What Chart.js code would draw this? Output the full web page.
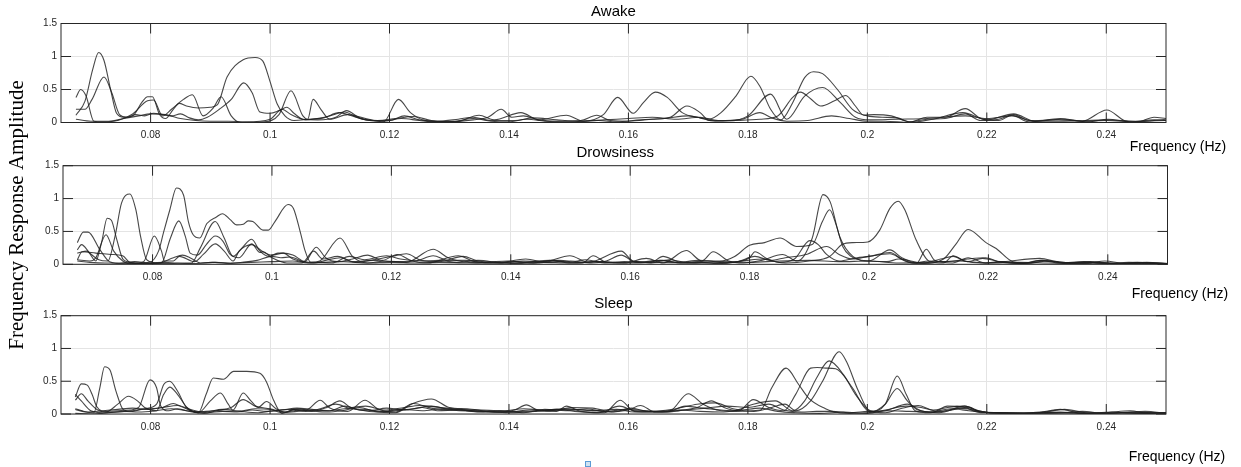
<!DOCTYPE html>
<html>
<head>
<meta charset="utf-8">
<script src="https://cdn.jsdelivr.net/npm/chart.js@4.4.1/dist/chart.umd.min.js"></script>
<style>
  body { margin: 0; background: #fff; }
  #wrap { position: relative; width: 1241px; height: 467px; overflow: hidden; }
  #wrap canvas { position: absolute; left: 0; top: 0; }
  #marker { position: absolute; left: 585px; top: 461px; width: 4px; height: 4px; border: 1px solid #5b9bd5; background: #cfe2f3; }
</style>
</head>
<body>
<div id="wrap">
  <canvas id="c0" width="1241" height="467"></canvas>
  <canvas id="c1" width="1241" height="467"></canvas>
  <canvas id="c2" width="1241" height="467"></canvas>
  <div id="marker"></div>
</div>
<script>
// axis ticks
const freqTicks = [0.08, 0.1, 0.12, 0.14, 0.16, 0.18, 0.2, 0.22, 0.24];
const ampTicks = [0, 0.5, 1, 1.5];
const panelTitles = ["Awake", "Drowsiness", "Sleep"];

// Awake: [frequency (Hz), amplitude]
const awake1 = [[0.0675,0.11],[0.069,0.32],[0.0703,0.8],[0.0713,1.06],[0.0722,0.94],[0.0733,0.5],[0.0743,0.14],[0.0755,0.08],[0.077,0.1],[0.0785,0.3],[0.0795,0.39],[0.0803,0.39],[0.0815,0.12],[0.0825,0.06],[0.0838,0.2],[0.0848,0.29],[0.086,0.25],[0.088,0.22],[0.09,0.23],[0.0912,0.27],[0.0928,0.69],[0.0955,0.95],[0.0975,0.985],[0.0988,0.93],[0.1,0.62],[0.1012,0.28],[0.1025,0.1],[0.104,0.03],[0.1065,0.05],[0.109,0.07],[0.1115,0.15],[0.113,0.12],[0.116,0.04],[0.119,0.02],[0.122,0.06],[0.125,0.03],[0.128,0.01],[0.131,0.02],[0.134,0.06],[0.137,0.02],[0.14,0.01],[0.143,0.05],[0.146,0.02],[0.15,0.01],[0.155,0.03],[0.158,0.01],[0.162,0.04],[0.166,0.06],[0.17,0.1],[0.1735,0.05],[0.1755,0.15],[0.178,0.4],[0.1805,0.7],[0.182,0.55],[0.1838,0.2],[0.1855,0.04],[0.1875,0.3],[0.1895,0.68],[0.191,0.77],[0.1925,0.74],[0.195,0.5],[0.1975,0.2],[0.2,0.1],[0.2025,0.08],[0.205,0.07],[0.207,0.01],[0.21,0.05],[0.213,0.06],[0.2164,0.13],[0.219,0.03],[0.222,0.05],[0.2245,0.12],[0.227,0.03],[0.232,0.04],[0.236,0.02],[0.24,0.03],[0.245,0.01],[0.25,0.05]];
const awake2 = [[0.0675,0.2],[0.069,0.2],[0.0702,0.35],[0.0722,0.69],[0.0735,0.45],[0.0748,0.12],[0.076,0.08],[0.0775,0.12],[0.079,0.1],[0.0805,0.14],[0.082,0.12],[0.0835,0.1],[0.085,0.13],[0.0865,0.07],[0.088,0.04],[0.0895,0.08],[0.0915,0.2],[0.0935,0.35],[0.0956,0.6],[0.097,0.45],[0.0983,0.16],[0.1,0.14],[0.1015,0.18],[0.1028,0.23],[0.104,0.14],[0.1055,0.05],[0.108,0.04],[0.111,0.08],[0.1128,0.18],[0.115,0.07],[0.118,0.03],[0.121,0.06],[0.124,0.09],[0.127,0.03],[0.131,0.01],[0.135,0.11],[0.1375,0.04],[0.142,0.15],[0.145,0.04],[0.1496,0.11],[0.1525,0.02],[0.1558,0.12],[0.1582,0.38],[0.1608,0.14],[0.1625,0.3],[0.1645,0.46],[0.1665,0.38],[0.169,0.15],[0.172,0.07],[0.1745,0.02],[0.178,0.03],[0.182,0.05],[0.185,0.1],[0.1875,0.38],[0.1888,0.46],[0.1905,0.36],[0.1922,0.25],[0.1945,0.33],[0.1964,0.41],[0.198,0.25],[0.1994,0.11],[0.2011,0.12],[0.204,0.1],[0.2072,0.01],[0.21,0.08],[0.213,0.08],[0.2164,0.21],[0.219,0.06],[0.222,0.03],[0.2242,0.11],[0.227,0.01],[0.2323,0.06],[0.236,0.02],[0.2401,0.19],[0.243,0.03],[0.245,0.0],[0.248,0.08],[0.25,0.06]];
const awake3 = [[0.0675,0.38],[0.0683,0.5],[0.0692,0.4],[0.0705,0.02],[0.072,0.01],[0.0745,0.03],[0.077,0.13],[0.0795,0.33],[0.0805,0.34],[0.082,0.1],[0.0835,0.2],[0.0855,0.35],[0.087,0.42],[0.0888,0.1],[0.0905,0.22],[0.0918,0.39],[0.0935,0.1],[0.095,0.0],[0.099,0.01],[0.1015,0.12],[0.1035,0.48],[0.1055,0.1],[0.1063,0.05],[0.1072,0.35],[0.1085,0.2],[0.11,0.05],[0.113,0.12],[0.116,0.06],[0.119,0.01],[0.1215,0.35],[0.1235,0.15],[0.126,0.03],[0.13,0.01],[0.134,0.04],[0.1365,0.08],[0.1387,0.2],[0.1405,0.08],[0.1424,0.1],[0.145,0.04],[0.148,0.02],[0.152,0.03],[0.1547,0.11],[0.157,0.03],[0.16,0.02],[0.164,0.05],[0.167,0.08],[0.1698,0.25],[0.172,0.15],[0.1735,0.03],[0.177,0.03],[0.18,0.1],[0.1838,0.43],[0.1865,0.05],[0.1895,0.4],[0.1925,0.53],[0.1955,0.3],[0.198,0.08],[0.2005,0.04],[0.205,0.05],[0.21,0.06],[0.2164,0.1],[0.22,0.06],[0.2242,0.1],[0.228,0.02],[0.233,0.02],[0.2401,0.04],[0.245,0.02],[0.25,0.03]];
const awake4 = [[0.0675,0.05],[0.07,0.02],[0.073,0.02],[0.0755,0.06],[0.078,0.1],[0.08,0.13],[0.0825,0.12],[0.085,0.06],[0.0875,0.03],[0.09,0.02],[0.093,0.02],[0.096,0.01],[0.1,0.05],[0.102,0.2],[0.1035,0.12],[0.106,0.04],[0.108,0.06],[0.11,0.1],[0.1125,0.16],[0.1145,0.08],[0.117,0.03],[0.12,0.03],[0.1225,0.1],[0.125,0.04],[0.128,0.02],[0.1315,0.05],[0.134,0.08],[0.137,0.03],[0.141,0.03],[0.144,0.07],[0.148,0.04],[0.152,0.02],[0.156,0.04],[0.16,0.06],[0.164,0.08],[0.168,0.05],[0.172,0.08],[0.175,0.03],[0.179,0.05],[0.182,0.15],[0.184,0.07],[0.1865,0.02],[0.19,0.03],[0.194,0.1],[0.197,0.06],[0.2,0.02],[0.203,0.02],[0.207,0.0],[0.211,0.05],[0.216,0.15],[0.22,0.04],[0.2245,0.13],[0.228,0.02],[0.2325,0.05],[0.237,0.01],[0.2403,0.05],[0.244,0.01],[0.248,0.04],[0.25,0.03]];

// Drowsiness
const drow1 = [[0.0674,0.33],[0.0684,0.49],[0.0692,0.49],[0.0712,0.22],[0.0728,0.04],[0.075,0.01],[0.0775,0.02],[0.0795,0.03],[0.081,0.2],[0.0818,0.47],[0.0829,0.83],[0.084,1.16],[0.0852,1.05],[0.086,0.65],[0.0868,0.45],[0.0879,0.4],[0.0891,0.62],[0.0907,0.72],[0.0917,0.77],[0.093,0.68],[0.0941,0.6],[0.0952,0.61],[0.096,0.66],[0.0968,0.65],[0.0985,0.52],[0.0994,0.52],[0.1005,0.65],[0.1027,0.91],[0.1036,0.85],[0.1048,0.47],[0.1055,0.22],[0.1065,0.03],[0.108,0.05],[0.1114,0.4],[0.1135,0.12],[0.116,0.02],[0.119,0.05],[0.1225,0.03],[0.127,0.23],[0.1295,0.1],[0.133,0.03],[0.137,0.02],[0.141,0.04],[0.1445,0.02],[0.148,0.06],[0.152,0.02],[0.1538,0.13],[0.156,0.03],[0.159,0.02],[0.1627,0.09],[0.1655,0.02],[0.1694,0.21],[0.172,0.05],[0.1739,0.19],[0.1765,0.05],[0.179,0.02],[0.182,0.06],[0.1855,0.15],[0.188,0.05],[0.1905,0.4],[0.1923,1.06],[0.1935,0.95],[0.1951,0.42],[0.1973,0.12],[0.2,0.05],[0.2035,0.22],[0.2055,0.1],[0.208,0.02],[0.2096,0.23],[0.211,0.06],[0.214,0.02],[0.2166,0.1],[0.2195,0.02],[0.222,0.04],[0.226,0.02],[0.229,0.06],[0.233,0.02],[0.237,0.04],[0.241,0.01],[0.245,0.03],[0.25,0.01]];
const drow2 = [[0.0674,0.22],[0.0681,0.3],[0.0695,0.17],[0.071,0.07],[0.0725,0.05],[0.0737,0.42],[0.0748,0.93],[0.0762,1.07],[0.0772,0.83],[0.078,0.42],[0.079,0.07],[0.0805,0.02],[0.083,0.01],[0.0855,0.02],[0.0865,0.02],[0.088,0.25],[0.0905,0.65],[0.092,0.4],[0.0935,0.12],[0.095,0.25],[0.0966,0.38],[0.098,0.2],[0.0995,0.12],[0.101,0.17],[0.1019,0.17],[0.1035,0.08],[0.1055,0.04],[0.1074,0.26],[0.109,0.1],[0.111,0.04],[0.1135,0.08],[0.116,0.14],[0.1185,0.06],[0.121,0.15],[0.1235,0.05],[0.126,0.02],[0.1312,0.13],[0.134,0.04],[0.138,0.02],[0.142,0.05],[0.1455,0.04],[0.1499,0.13],[0.153,0.03],[0.1585,0.2],[0.1605,0.05],[0.1635,0.03],[0.1655,0.12],[0.168,0.04],[0.172,0.02],[0.1765,0.03],[0.18,0.1],[0.1809,0.19],[0.183,0.08],[0.186,0.02],[0.19,0.05],[0.1934,0.12],[0.1955,0.3],[0.1973,0.33],[0.1998,0.34],[0.2018,0.52],[0.2035,0.85],[0.2049,0.96],[0.206,0.83],[0.2079,0.37],[0.2102,0.04],[0.2125,0.02],[0.2141,0.13],[0.216,0.05],[0.219,0.02],[0.2225,0.04],[0.2286,0.09],[0.232,0.03],[0.2365,0.02],[0.2395,0.05],[0.243,0.01],[0.2465,0.03],[0.25,0.01]];
const drow3 = [[0.0674,0.17],[0.069,0.2],[0.0705,0.05],[0.0715,0.35],[0.0724,0.7],[0.0731,0.67],[0.074,0.38],[0.0751,0.07],[0.077,0.02],[0.08,0.01],[0.0815,0.02],[0.083,0.4],[0.0844,0.66],[0.0855,0.42],[0.0863,0.17],[0.0875,0.14],[0.089,0.3],[0.0905,0.43],[0.0918,0.35],[0.093,0.15],[0.0945,0.1],[0.0966,0.31],[0.098,0.18],[0.0985,0.19],[0.1,0.1],[0.1025,0.02],[0.105,0.02],[0.107,0.2],[0.1085,0.08],[0.111,0.12],[0.114,0.03],[0.117,0.07],[0.12,0.12],[0.1225,0.16],[0.125,0.06],[0.128,0.04],[0.132,0.12],[0.1345,0.05],[0.138,0.03],[0.1425,0.08],[0.146,0.03],[0.15,0.05],[0.1535,0.02],[0.156,0.05],[0.1585,0.14],[0.161,0.03],[0.165,0.06],[0.168,0.03],[0.1715,0.06],[0.175,0.05],[0.1775,0.12],[0.18,0.29],[0.1825,0.33],[0.1851,0.4],[0.1879,0.27],[0.1905,0.3],[0.1922,0.65],[0.1934,0.83],[0.1945,0.6],[0.1956,0.27],[0.197,0.12],[0.2,0.05],[0.203,0.04],[0.205,0.08],[0.209,0.02],[0.212,0.08],[0.2141,0.12],[0.2165,0.04],[0.219,0.09],[0.222,0.04],[0.2255,0.01],[0.2286,0.06],[0.232,0.02],[0.236,0.04],[0.2395,0.01],[0.2435,0.03],[0.25,0.01]];
const drow4 = [[0.0674,0.07],[0.0695,0.05],[0.0705,0.1],[0.0722,0.45],[0.0735,0.2],[0.075,0.05],[0.0765,0.01],[0.0785,0.04],[0.0803,0.43],[0.0815,0.2],[0.082,0.05],[0.0835,0.05],[0.0845,0.12],[0.087,0.04],[0.0885,0.15],[0.0905,0.31],[0.092,0.2],[0.0935,0.05],[0.0945,0.2],[0.0966,0.3],[0.0985,0.19],[0.1,0.14],[0.1019,0.17],[0.1035,0.14],[0.1055,0.04],[0.1075,0.03],[0.11,0.02],[0.113,0.12],[0.1155,0.07],[0.1192,0.13],[0.1215,0.08],[0.125,0.05],[0.128,0.06],[0.131,0.03],[0.1345,0.06],[0.139,0.02],[0.1425,0.03],[0.1465,0.06],[0.15,0.02],[0.154,0.04],[0.158,0.02],[0.161,0.04],[0.1635,0.02],[0.1665,0.07],[0.1695,0.03],[0.173,0.05],[0.176,0.02],[0.1795,0.06],[0.1825,0.08],[0.185,0.03],[0.1875,0.08],[0.1901,0.36],[0.1915,0.3],[0.1929,0.15],[0.195,0.05],[0.198,0.1],[0.2,0.12],[0.2035,0.18],[0.206,0.05],[0.209,0.01],[0.2125,0.08],[0.2145,0.3],[0.2166,0.53],[0.2196,0.33],[0.2213,0.24],[0.2241,0.04],[0.2265,0.02],[0.2295,0.05],[0.233,0.02],[0.2375,0.03],[0.241,0.01],[0.245,0.02],[0.25,0.01]];
const drow5 = [[0.0674,0.07],[0.0682,0.19],[0.0705,0.17],[0.073,0.15],[0.075,0.13],[0.0762,0.03],[0.0785,0.01],[0.081,0.02],[0.0835,0.1],[0.085,0.14],[0.0865,0.09],[0.088,0.02],[0.0905,0.03],[0.093,0.01],[0.095,0.03],[0.0975,0.06],[0.1,0.12],[0.1015,0.1],[0.103,0.11],[0.1055,0.03],[0.107,0.02],[0.109,0.06],[0.1115,0.1],[0.1135,0.04],[0.117,0.06],[0.12,0.04],[0.124,0.05],[0.127,0.13],[0.1295,0.06],[0.1325,0.06],[0.1355,0.03],[0.1395,0.05],[0.1435,0.02],[0.147,0.06],[0.1499,0.03],[0.1525,0.07],[0.156,0.02],[0.159,0.04],[0.162,0.03],[0.1655,0.06],[0.1685,0.02],[0.172,0.03],[0.1745,0.01],[0.178,0.04],[0.1809,0.12],[0.1835,0.06],[0.186,0.1],[0.1895,0.15],[0.1929,0.27],[0.195,0.15],[0.1973,0.08],[0.2,0.12],[0.2035,0.16],[0.2055,0.08],[0.2075,0.02],[0.21,0.05],[0.213,0.04],[0.2165,0.08],[0.2195,0.1],[0.222,0.03],[0.2265,0.01],[0.23,0.05],[0.2345,0.02],[0.2385,0.03],[0.242,0.01],[0.246,0.02],[0.25,0.0]];
const drow6 = [[0.0674,0.05],[0.0695,0.03],[0.072,0.02],[0.0745,0.02],[0.077,0.04],[0.0795,0.02],[0.082,0.03],[0.084,0.02],[0.087,0.01],[0.09,0.03],[0.093,0.02],[0.0965,0.03],[0.1,0.04],[0.1035,0.05],[0.106,0.02],[0.1085,0.03],[0.112,0.04],[0.116,0.02],[0.12,0.03],[0.124,0.02],[0.128,0.03],[0.133,0.02],[0.137,0.03],[0.141,0.01],[0.145,0.03],[0.15,0.02],[0.155,0.04],[0.16,0.02],[0.165,0.03],[0.17,0.02],[0.175,0.04],[0.18,0.03],[0.185,0.05],[0.19,0.06],[0.195,0.04],[0.2,0.05],[0.205,0.02],[0.21,0.03],[0.215,0.05],[0.22,0.02],[0.225,0.03],[0.23,0.02],[0.235,0.01],[0.24,0.02],[0.245,0.01],[0.25,0.01]];

// Sleep
const sleep1 = [[0.0674,0.26],[0.0684,0.46],[0.0694,0.44],[0.0702,0.3],[0.071,0.11],[0.0725,0.04],[0.0745,0.05],[0.0765,0.06],[0.078,0.1],[0.0799,0.52],[0.081,0.4],[0.0817,0.12],[0.083,0.05],[0.0845,0.08],[0.086,0.05],[0.088,0.02],[0.0893,0.3],[0.0905,0.55],[0.0922,0.53],[0.0939,0.65],[0.0961,0.65],[0.0983,0.62],[0.0994,0.49],[0.1006,0.21],[0.102,0.01],[0.104,0.07],[0.106,0.06],[0.1084,0.21],[0.11,0.09],[0.113,0.04],[0.1159,0.21],[0.118,0.08],[0.121,0.03],[0.124,0.16],[0.127,0.09],[0.13,0.06],[0.134,0.04],[0.138,0.03],[0.141,0.06],[0.1429,0.14],[0.145,0.05],[0.148,0.04],[0.1496,0.12],[0.152,0.04],[0.156,0.02],[0.1586,0.21],[0.161,0.04],[0.164,0.03],[0.167,0.05],[0.17,0.31],[0.1725,0.15],[0.1755,0.05],[0.178,0.04],[0.1821,0.06],[0.184,0.4],[0.1864,0.7],[0.1885,0.45],[0.1902,0.24],[0.193,0.08],[0.1941,0.04],[0.197,0.01],[0.2,0.02],[0.203,0.05],[0.2067,0.15],[0.209,0.05],[0.212,0.02],[0.2163,0.12],[0.219,0.03],[0.223,0.01],[0.2285,0.02],[0.2323,0.07],[0.236,0.01],[0.24,0.02],[0.244,0.05],[0.247,0.01],[0.25,0.02]];
const sleep2 = [[0.0674,0.21],[0.0684,0.31],[0.0695,0.2],[0.071,0.07],[0.0725,0.03],[0.0745,0.15],[0.0763,0.27],[0.0778,0.2],[0.079,0.1],[0.081,0.05],[0.0822,0.3],[0.0832,0.41],[0.0845,0.3],[0.086,0.11],[0.088,0.02],[0.09,0.2],[0.0917,0.32],[0.093,0.15],[0.0938,0.06],[0.0955,0.32],[0.0968,0.2],[0.098,0.1],[0.0994,0.19],[0.101,0.08],[0.1025,0.03],[0.105,0.06],[0.107,0.04],[0.1095,0.1],[0.1117,0.2],[0.1135,0.1],[0.1165,0.05],[0.1195,0.09],[0.1225,0.06],[0.1255,0.1],[0.128,0.05],[0.1315,0.06],[0.135,0.03],[0.1385,0.05],[0.1425,0.02],[0.146,0.07],[0.1495,0.05],[0.153,0.08],[0.1565,0.03],[0.16,0.06],[0.162,0.13],[0.1645,0.03],[0.168,0.05],[0.1715,0.1],[0.1739,0.2],[0.176,0.1],[0.1785,0.05],[0.1809,0.22],[0.1835,0.1],[0.186,0.05],[0.188,0.3],[0.1905,0.7],[0.1916,0.71],[0.193,0.7],[0.1947,0.69],[0.1975,0.4],[0.1995,0.1],[0.2005,0.03],[0.203,0.15],[0.205,0.39],[0.2067,0.2],[0.2085,0.06],[0.211,0.03],[0.2134,0.12],[0.2163,0.1],[0.219,0.02],[0.222,0.02],[0.2255,0.01],[0.229,0.03],[0.2325,0.02],[0.236,0.04],[0.2395,0.01],[0.243,0.02],[0.2465,0.04],[0.25,0.01]];
const sleep3 = [[0.0674,0.07],[0.069,0.03],[0.0705,0.02],[0.0715,0.4],[0.0723,0.72],[0.0732,0.67],[0.0742,0.35],[0.0755,0.06],[0.077,0.04],[0.0785,0.07],[0.08,0.08],[0.082,0.1],[0.0838,0.16],[0.085,0.12],[0.087,0.04],[0.089,0.01],[0.091,0.05],[0.0935,0.1],[0.0955,0.22],[0.0975,0.12],[0.1,0.08],[0.1025,0.03],[0.1045,0.08],[0.107,0.05],[0.1095,0.03],[0.112,0.05],[0.115,0.1],[0.1175,0.04],[0.121,0.02],[0.1239,0.16],[0.127,0.23],[0.13,0.1],[0.133,0.08],[0.1365,0.04],[0.14,0.03],[0.1435,0.06],[0.147,0.05],[0.1505,0.1],[0.154,0.09],[0.1575,0.03],[0.1605,0.09],[0.163,0.04],[0.1665,0.03],[0.1695,0.12],[0.1715,0.1],[0.1745,0.07],[0.1775,0.05],[0.1809,0.15],[0.1846,0.2],[0.1875,0.05],[0.1895,0.2],[0.1915,0.55],[0.1936,0.81],[0.196,0.6],[0.198,0.3],[0.2005,0.05],[0.203,0.02],[0.2055,0.08],[0.2085,0.13],[0.211,0.06],[0.2134,0.1],[0.2163,0.12],[0.219,0.04],[0.222,0.01],[0.226,0.01],[0.2323,0.03],[0.236,0.01],[0.241,0.03],[0.245,0.01],[0.25,0.02]];
const sleep4 = [[0.0674,0.3],[0.0684,0.2],[0.07,0.05],[0.072,0.02],[0.0745,0.03],[0.077,0.05],[0.079,0.08],[0.081,0.15],[0.0822,0.45],[0.0832,0.5],[0.0845,0.35],[0.086,0.1],[0.088,0.03],[0.0905,0.05],[0.093,0.04],[0.0955,0.05],[0.0975,0.08],[0.1,0.07],[0.102,0.02],[0.1045,0.04],[0.1075,0.06],[0.11,0.05],[0.1125,0.12],[0.115,0.06],[0.118,0.03],[0.121,0.05],[0.124,0.08],[0.127,0.12],[0.13,0.07],[0.134,0.05],[0.138,0.03],[0.142,0.04],[0.146,0.05],[0.15,0.07],[0.154,0.05],[0.158,0.07],[0.161,0.03],[0.1645,0.04],[0.168,0.08],[0.1715,0.15],[0.1745,0.17],[0.1775,0.08],[0.181,0.04],[0.184,0.1],[0.1862,0.15],[0.188,0.05],[0.1905,0.2],[0.1925,0.5],[0.1953,0.95],[0.1965,0.8],[0.1985,0.35],[0.2005,0.04],[0.203,0.15],[0.205,0.58],[0.2065,0.3],[0.208,0.05],[0.2105,0.02],[0.2135,0.05],[0.2167,0.1],[0.219,0.03],[0.2215,0.02],[0.2255,0.01],[0.229,0.02],[0.233,0.07],[0.2365,0.02],[0.24,0.01],[0.244,0.03],[0.25,0.01]];
const sleep5 = [[0.0674,0.08],[0.0695,0.03],[0.072,0.05],[0.0745,0.07],[0.077,0.09],[0.0795,0.07],[0.082,0.1],[0.0845,0.13],[0.087,0.06],[0.0895,0.02],[0.092,0.04],[0.0945,0.03],[0.097,0.06],[0.0995,0.04],[0.102,0.06],[0.1045,0.09],[0.107,0.07],[0.1095,0.05],[0.1125,0.08],[0.116,0.12],[0.119,0.06],[0.1225,0.1],[0.125,0.13],[0.1285,0.1],[0.132,0.07],[0.1355,0.06],[0.139,0.05],[0.1425,0.08],[0.146,0.06],[0.1495,0.08],[0.153,0.06],[0.1565,0.04],[0.1595,0.07],[0.163,0.05],[0.166,0.03],[0.1695,0.06],[0.173,0.09],[0.1765,0.12],[0.18,0.1],[0.1835,0.15],[0.186,0.06],[0.189,0.03],[0.1915,0.04],[0.1941,0.04],[0.197,0.02],[0.2,0.04],[0.2035,0.05],[0.207,0.04],[0.2105,0.03],[0.214,0.08],[0.217,0.05],[0.2195,0.03],[0.223,0.02],[0.227,0.01],[0.232,0.02],[0.237,0.01],[0.242,0.02],[0.246,0.01],[0.25,0.01]];
const sleep6 = [[0.0674,0.01],[0.07,0.0],[0.073,0.02],[0.0755,0.04],[0.078,0.03],[0.081,0.05],[0.0835,0.08],[0.086,0.05],[0.089,0.03],[0.092,0.07],[0.095,0.04],[0.098,0.02],[0.1005,0.05],[0.1035,0.07],[0.106,0.04],[0.1084,0.08],[0.111,0.15],[0.1135,0.08],[0.1159,0.07],[0.119,0.04],[0.122,0.07],[0.1255,0.05],[0.129,0.08],[0.1325,0.06],[0.136,0.04],[0.14,0.02],[0.1445,0.04],[0.148,0.07],[0.151,0.04],[0.155,0.02],[0.1585,0.12],[0.161,0.05],[0.1645,0.04],[0.1685,0.06],[0.172,0.04],[0.1755,0.03],[0.179,0.06],[0.182,0.09],[0.185,0.04],[0.188,0.02],[0.192,0.01],[0.196,0.03],[0.2,0.01],[0.203,0.06],[0.2065,0.12],[0.209,0.1],[0.212,0.04],[0.2155,0.09],[0.2185,0.05],[0.221,0.02],[0.225,0.02],[0.23,0.01],[0.235,0.02],[0.24,0.01],[0.245,0.02],[0.25,0.02]];

const W = 1241, H = 467, AXIS_H = 30;
const panels = [
    { series: [awake1, awake2, awake3, awake4], box: { left: 61, right: 1166, top: 23.5, bottom: 122.5 }, titleY: 12, hz: [1178, 147] },
    { series: [drow1, drow2, drow3, drow4, drow5, drow6], box: { left: 63, right: 1167.5, top: 165.7, bottom: 264.3 }, titleY: 152.5, hz: [1180, 294] },
    { series: [sleep1, sleep2, sleep3, sleep4, sleep5, sleep6], box: { left: 61, right: 1166, top: 315.7, bottom: 414 }, titleY: 304, hz: [1177, 457] },
];

Chart.defaults.font.family = "'Liberation Sans', Arial, sans-serif";

// box, inward ticks and the texts around each axes
const frame = {
    id: "frame",
    afterDatasetsDraw(chart, args, opts) {
        const { ctx, chartArea: a, scales: { x, y } } = chart;
        ctx.save();
        ctx.strokeStyle = "#262626";
        ctx.lineWidth = 1;
        ctx.beginPath();
        freqTicks.forEach((f) => {
            const px = x.getPixelForValue(f);
            ctx.moveTo(px, a.top); ctx.lineTo(px, a.top + 10);
            ctx.moveTo(px, a.bottom); ctx.lineTo(px, a.bottom - 10);
        });
        ampTicks.forEach((v) => {
            const py = y.getPixelForValue(v);
            ctx.moveTo(a.left, py); ctx.lineTo(a.left + 10, py);
            ctx.moveTo(a.right, py); ctx.lineTo(a.right - 10, py);
        });
        ctx.stroke();
        ctx.strokeRect(a.left, a.top, a.right - a.left, a.bottom - a.top);

        ctx.fillStyle = "#000";
        ctx.textAlign = "center";
        ctx.textBaseline = "middle";
        ctx.font = "15px 'Liberation Sans'";
        ctx.fillText(opts.title, (a.left + a.right) / 2, opts.titleY);
        ctx.font = "14px 'Liberation Sans'";
        ctx.fillText("Frequency (Hz)", opts.hz[0], opts.hz[1]);
        if (opts.yLabel) {
            ctx.translate(17, 215);
            ctx.rotate(-Math.PI / 2);
            ctx.font = "21px 'Liberation Serif'";
            ctx.fillText(opts.yLabel, 0, 0);
        }
        ctx.restore();
    },
};

panels.forEach((p, i) => {
    new Chart(document.getElementById("c" + i), {
        type: "line",
        data: {
            datasets: p.series.map((s) => ({
                data: s.map(([f, amp]) => ({ x: f, y: amp })),
                borderColor: "rgba(30,30,30,0.82)",
                borderWidth: 1.1,
                pointRadius: 0,
                fill: false,
                cubicInterpolationMode: "monotone",
            })),
        },
        options: {
            responsive: false,
            animation: false,
            events: [],
            layout: { padding: { left: 0, right: W - p.box.right, top: p.box.top, bottom: H - p.box.bottom - AXIS_H } },
            plugins: {
                legend: { display: false },
                tooltip: { enabled: false },
                frame: { title: panelTitles[i], titleY: p.titleY, hz: p.hz, yLabel: i === 0 ? "Frequency Response Amplitude" : null },
            },
            scales: {
                x: {
                    type: "linear",
                    min: 0.065,
                    max: 0.25,
                    afterBuildTicks: (s) => { s.ticks = freqTicks.map((v) => ({ value: v })); },
                    afterFit: (s) => { s.height = AXIS_H; },
                    grid: { color: "#e4e4e4", drawTicks: false },
                    border: { display: false },
                    ticks: { autoSkip: false, maxRotation: 0, padding: 7, color: "#262626", font: { size: 10 }, callback: (v) => String(Number(v.toFixed(2))) },
                },
                y: {
                    min: 0,
                    max: 1.5,
                    afterBuildTicks: (s) => { s.ticks = ampTicks.map((v) => ({ value: v })); },
                    afterFit: (s) => { s.width = p.box.left; },
                    grid: { color: "#e4e4e4", drawTicks: false },
                    border: { display: false },
                    ticks: { padding: 4, color: "#262626", font: { size: 10 }, callback: (v) => String(v) },
                },
            },
        },
        plugins: [frame],
    });
});
</script>
</body>
</html>
